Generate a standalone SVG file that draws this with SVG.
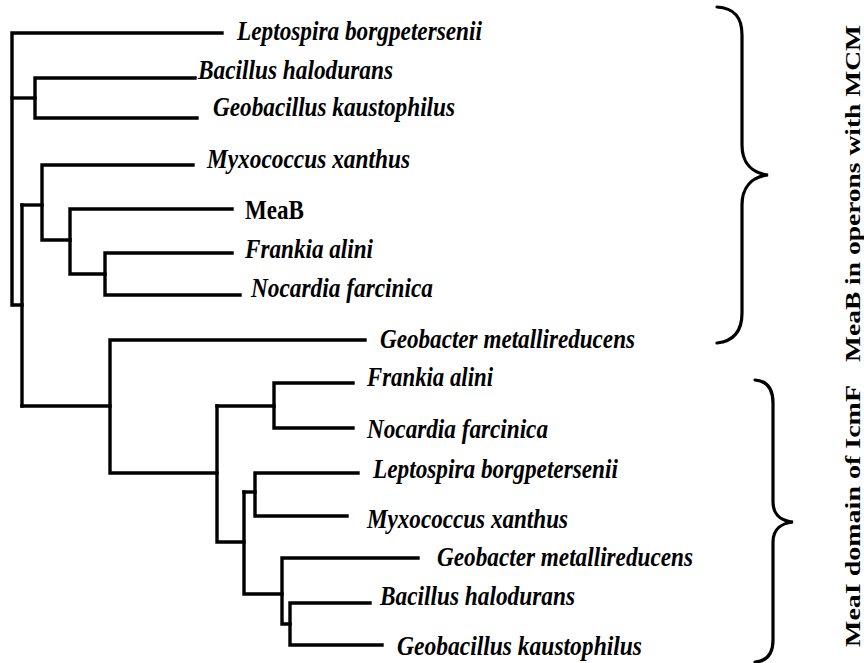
<svg xmlns="http://www.w3.org/2000/svg" width="864" height="663" viewBox="0 0 864 663">
<style>
.br{fill:none;stroke:#000;stroke-width:3.4;stroke-linecap:square;stroke-linejoin:miter}
.bc{fill:none;stroke:#000;stroke-width:3.2;stroke-linecap:round}
.sp{font-family:"Liberation Serif","Times New Roman",serif;font-weight:bold;font-style:italic;font-size:27px;fill:#000}
.up{font-family:"Liberation Serif","Times New Roman",serif;font-weight:bold;font-size:27px;fill:#000}
.lab{font-family:"Liberation Serif","Times New Roman",serif;font-weight:bold;font-size:20px;fill:#000}
</style>
<rect width="864" height="663" fill="#fff"/>
<g id="connectors">
<path class="br" d="M222,33 H12 V305 H22"/>
<path class="br" d="M12,98 H35"/>
<path class="br" d="M195,78 H35 V118 H197"/>
<path class="br" d="M22,205 V406"/>
<path class="br" d="M22,205 H42"/>
<path class="br" d="M193,165 H42 V240 H70"/>
<path class="br" d="M232,209 H70 V274 H105"/>
<path class="br" d="M232,253 H105 V295 H240"/>
<path class="br" d="M22,406 H110"/>
<path class="br" d="M365,340 H110 V473 H217"/>
<path class="br" d="M217,406 V542 H244"/>
<path class="br" d="M217,406 H274"/>
<path class="br" d="M353,383 H274 V428 H353"/>
<path class="br" d="M244,492 V594 H282"/>
<path class="br" d="M244,492 H255"/>
<path class="br" d="M358,473 H255 V516 H347"/>
<path class="br" d="M418,558 H282 V624 H290"/>
<path class="br" d="M370,603 H290 V645 H382"/>
</g>
<g id="leaf-upper-leptospira"><text class="sp" x="237" y="40" textLength="245" lengthAdjust="spacingAndGlyphs">Leptospira borgpetersenii</text></g>
<g id="leaf-upper-bacillus"><text class="sp" x="198" y="79" textLength="195" lengthAdjust="spacingAndGlyphs">Bacillus halodurans</text></g>
<g id="leaf-upper-geobacillus"><text class="sp" x="213" y="116" textLength="242" lengthAdjust="spacingAndGlyphs">Geobacillus kaustophilus</text></g>
<g id="leaf-upper-myxococcus"><text class="sp" x="207" y="168" textLength="203" lengthAdjust="spacingAndGlyphs">Myxococcus xanthus</text></g>
<g id="leaf-meab"><text class="up" x="245" y="219" textLength="59" lengthAdjust="spacingAndGlyphs">MeaB</text></g>
<g id="leaf-upper-frankia"><text class="sp" x="245" y="258" textLength="128" lengthAdjust="spacingAndGlyphs">Frankia alini</text></g>
<g id="leaf-upper-nocardia"><text class="sp" x="251" y="297" textLength="182" lengthAdjust="spacingAndGlyphs">Nocardia farcinica</text></g>
<g id="leaf-upper-geobacter"><text class="sp" x="380" y="348" textLength="255" lengthAdjust="spacingAndGlyphs">Geobacter metallireducens</text></g>
<g id="leaf-lower-frankia"><text class="sp" x="367" y="386" textLength="126" lengthAdjust="spacingAndGlyphs">Frankia alini</text></g>
<g id="leaf-lower-nocardia"><text class="sp" x="367" y="438" textLength="181" lengthAdjust="spacingAndGlyphs">Nocardia farcinica</text></g>
<g id="leaf-lower-leptospira"><text class="sp" x="373" y="478" textLength="245" lengthAdjust="spacingAndGlyphs">Leptospira borgpetersenii</text></g>
<g id="leaf-lower-myxococcus"><text class="sp" x="367" y="528" textLength="201" lengthAdjust="spacingAndGlyphs">Myxococcus xanthus</text></g>
<g id="leaf-lower-geobacter"><text class="sp" x="437" y="566" textLength="256" lengthAdjust="spacingAndGlyphs">Geobacter metallireducens</text></g>
<g id="leaf-lower-bacillus"><text class="sp" x="380" y="605" textLength="195" lengthAdjust="spacingAndGlyphs">Bacillus halodurans</text></g>
<g id="leaf-lower-geobacillus"><text class="sp" x="397" y="655" textLength="245" lengthAdjust="spacingAndGlyphs">Geobacillus kaustophilus</text></g>
<g id="brace-upper">
<path class="bc" d="M717,7 C735,8 742,18 742,35 L742,145 C742,163 752,173 768,175 C752,177 742,187 742,205 L742,313 C742,330 735,341 717,343"/>
<text class="lab" transform="translate(860,362) rotate(-90)" textLength="337" lengthAdjust="spacingAndGlyphs">MeaB in operons with MCM</text>
</g>
<g id="brace-lower">
<path class="bc" d="M755,380 C768,381 773,390 773,403 L773,502 C773,515 782,521 793,522 C782,523 773,529 773,542 L773,640 C773,653 768,661 755,662"/>
<text class="lab" transform="translate(860,647) rotate(-90)" textLength="262" lengthAdjust="spacingAndGlyphs">MeaI domain of IcmF</text>
</g>
</svg>
